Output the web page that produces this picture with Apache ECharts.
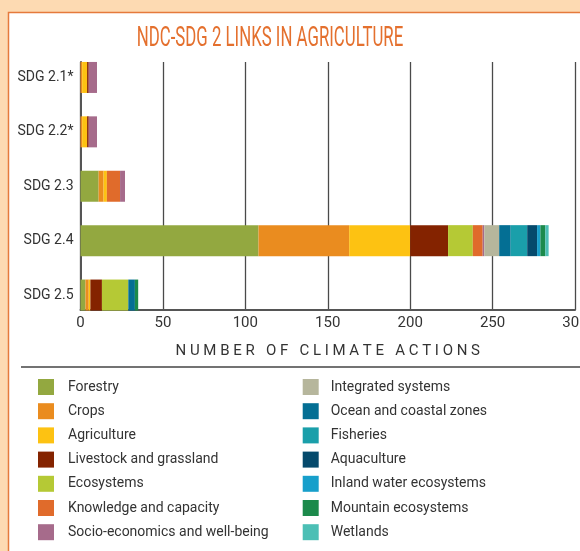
<!DOCTYPE html>
<html>
<head>
<meta charset="utf-8">
<script src="https://cdn.jsdelivr.net/npm/echarts@6/dist/echarts.min.js"></script>
<style>
  html, body { margin: 0; padding: 0; background: #fddab2; }
  #chart { width: 580px; height: 551px; }
</style>
</head>
<body>
<div id="chart"></div>
<script>
const categories = ['SDG 2.1*', 'SDG 2.2*', 'SDG 2.3', 'SDG 2.4', 'SDG 2.5'];
const xTicks = [0, 50, 100, 150, 200, 250, 300];

const forestry     = [0, 0, 11, 108, 3];
const crops        = [1, 1, 3, 55, 2];
const agriculture  = [3, 3, 2, 37, 1];
const livestock    = [1, 1, 0, 23, 7];
const ecosystems   = [0, 0, 0, 15, 16];
const knowledge    = [0, 0, 8, 6, 0];
const socio        = [5, 5, 3, 1, 0];
const integrated   = [0, 0, 0, 9, 0];
const ocean        = [0, 0, 0, 7, 4];
const fisheries    = [0, 0, 0, 10, 0];
const aquaculture  = [0, 0, 0, 6, 0];
const inland       = [0, 0, 0, 2, 0];
const mountain     = [0, 0, 0, 3, 2];
const wetlands     = [0, 0, 0, 2, 0];

const seriesNames = ['Forestry', 'Crops', 'Agriculture', 'Livestock and grassland', 'Ecosystems',
  'Knowledge and capacity', 'Socio-economics and well-being', 'Integrated systems',
  'Ocean and coastal zones', 'Fisheries', 'Aquaculture', 'Inland water ecosystems',
  'Mountain ecosystems', 'Wetlands'];
const seriesValues = [forestry, crops, agriculture, livestock, ecosystems, knowledge, socio,
  integrated, ocean, fisheries, aquaculture, inland, mountain, wetlands];
const seriesColors = ['#93a840', '#ea8c1f', '#fdc212', '#842300', '#b5c935', '#e06b2b', '#a66b8b',
  '#b6b69c', '#046f94', '#1a9faa', '#054a6c', '#179fcb', '#1c8a4b', '#4cbfb5'];

const FONT = "Roboto, sans-serif";
const TXT = '#333333';

const chart = echarts.init(document.getElementById('chart'), null, { renderer: 'canvas' });

const option = {
  animation: false,
  backgroundColor: 'transparent',
  graphic: [
    { type: 'rect', z: -10, silent: true,
      shape: { x: 8.5, y: 12.5, width: 700, height: 700 },
      style: { fill: '#ffffff', stroke: '#e57a3c', lineWidth: 1.5 } },
    { type: 'text', z: 10, x: 270, y: 39, scaleX: 0.6, scaleY: 1,
      style: { text: 'NDC-SDG 2 LINKS IN AGRICULTURE', fill: '#e4702e',
        font: "28px " + FONT, textAlign: 'center', textVerticalAlign: 'middle' } },
    { type: 'line', z: 10, silent: true,
      shape: { x1: 21, y1: 367, x2: 600, y2: 367 },
      style: { stroke: '#444444', lineWidth: 1.5 } }
  ],
  grid: [
    { left: 80.5, right: 5, top: 50.25, height: 272, containLabel: false, outerBoundsMode: 'none' },
    { left: 80.5, right: 5, top: 62, height: 248, containLabel: false, outerBoundsMode: 'none' }
  ],
  xAxis: [
    { type: 'value', gridIndex: 0, min: 0, max: 300, interval: 50,
      axisLine: { show: false }, axisTick: { show: false }, axisLabel: { show: false },
      splitLine: { show: false } },
    { type: 'value', gridIndex: 1, min: 0, max: 300, interval: 50,
      axisLine: { show: true, lineStyle: { color: '#555555', width: 2 } },
      axisTick: { show: false },
      axisLabel: { show: true, color: TXT, fontFamily: FONT, fontSize: 15, margin: 6,
        hideOverlap: false, formatter: v => String(v) },
      splitLine: { show: true, lineStyle: { color: '#4a4a4a', width: 1.3 } },
      name: 'N U M B E R   O F   C L I M A T E   A C T I O N S',
      nameLocation: 'middle', nameGap: 34,
      nameTextStyle: { color: TXT, fontFamily: FONT, fontSize: 15 } }
  ],
  yAxis: [
    { type: 'category', gridIndex: 0, data: categories, inverse: true,
      axisLine: { show: false }, axisTick: { show: false },
      axisLabel: { color: TXT, fontFamily: FONT, fontSize: 14, margin: 7 } },
    { type: 'value', gridIndex: 1, min: 0, max: 1,
      axisLine: { show: true, lineStyle: { color: '#555555', width: 2 } },
      axisTick: { show: false }, axisLabel: { show: false }, splitLine: { show: false } }
  ],
  legend: [
    { left: 38, top: 379, orient: 'vertical', padding: 0, itemGap: 8.2,
      itemWidth: 16, itemHeight: 16, icon: 'rect', selectedMode: false,
      data: seriesNames.slice(0, 7),
      textStyle: { color: TXT, fontFamily: FONT, fontSize: 14, padding: [0, 0, 0, 9] } },
    { left: 302.7, top: 379, orient: 'vertical', padding: 0, itemGap: 8.2,
      itemWidth: 16, itemHeight: 16, icon: 'rect', selectedMode: false,
      data: seriesNames.slice(7),
      textStyle: { color: TXT, fontFamily: FONT, fontSize: 14, padding: [0, 0, 0, 7] } }
  ],
  series: seriesNames.map((name, i) => ({
    name: name,
    type: 'bar',
    stack: 'total',
    xAxisIndex: 0,
    yAxisIndex: 0,
    barWidth: 31,
    itemStyle: { color: seriesColors[i] },
    emphasis: { disabled: true },
    data: seriesValues[i]
  }))
};

chart.setOption(option);
</script>
</body>
</html>
